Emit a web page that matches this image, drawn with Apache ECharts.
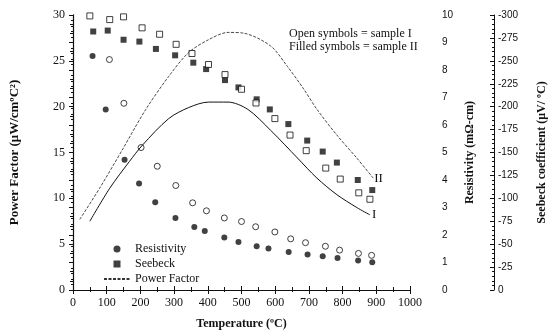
<!DOCTYPE html>
<html>
<head>
<meta charset="utf-8">
<script src="https://cdn.jsdelivr.net/npm/echarts@6/dist/echarts.min.js"></script>
<style>
  html, body { margin: 0; padding: 0; background: #fff; }
  #chart { width: 556px; height: 335px; }
</style>
</head>
<body>
<div id="chart"></div>
<script>
// resistivity (mOhm-cm), sample II = filled, sample I = open
var resTempII = [58, 97, 153, 196, 244, 304, 360, 391, 449, 491, 545, 580, 640, 696, 741, 785, 846, 888];
var resII = [8.51, 6.56, 4.74, 3.87, 3.19, 2.62, 2.29, 2.15, 1.91, 1.75, 1.59, 1.51, 1.38, 1.29, 1.23, 1.16, 1.07, 1.01];
var resTempI = [108, 151, 202, 250, 305, 355, 396, 449, 500, 542, 599, 646, 690, 749, 791, 847, 886];
var resI = [8.38, 6.79, 5.18, 4.50, 3.80, 3.17, 2.88, 2.62, 2.49, 2.30, 2.11, 1.86, 1.72, 1.59, 1.45, 1.33, 1.26];

// seebeck (uV/C)
var seeTempII = [60, 103, 150, 197, 246, 303, 357, 395, 451, 491, 545, 584, 639, 695, 741, 783, 845, 888];
var seeII = [-282, -283, -273, -271, -263, -256, -248, -241, -229, -221, -208, -197, -181, -163, -151, -139, -120, -109];
var seeTempI = [50, 109, 150, 205, 257, 306, 353, 402, 451, 500, 543, 599, 644, 692, 750, 793, 848, 881];
var seeI = [-299, -295, -298, -286, -279, -268, -258, -246, -235, -219, -204, -187, -169, -152, -133, -121, -106, -99];

// power factor curves (uW/cm C^2)
var pfTempII = [20, 79, 148, 216, 284, 343, 402, 460, 509, 587, 636, 685, 724, 783, 842, 891];
var pfII = [7.7, 11.1, 15.4, 19.7, 23.3, 25.9, 27.3, 28.1, 28.0, 26.6, 24.4, 21.9, 19.7, 16.9, 14.4, 12.2];
var pfTempI = [50, 109, 167, 206, 284, 343, 402, 460, 519, 587, 666, 724, 783, 842, 881];
var pfI = [7.5, 11.1, 14.0, 15.8, 18.7, 19.9, 20.5, 20.5, 19.7, 17.4, 14.4, 12.2, 10.4, 9.0, 8.2];

var notes = ["Open symbols = sample I", "Filled symbols = sample II"];

function zip(xs, ys) {
  return xs.map(function (x, i) { return [x, ys[i]]; });
}

var serif = "Liberation Serif";
var sans = "Liberation Sans";
var ink = "#111";

var chart = echarts.init(document.getElementById("chart"));

var option = {
  backgroundColor: "#fff",
  animation: false,
  grid: { left: 73, right: 142, top: 15, bottom: 42 },
  legend: {
    orient: "vertical",
    left: 98,
    top: 238,
    itemGap: 3,
    itemWidth: 26,
    itemHeight: 7,
    textStyle: { fontFamily: serif, fontSize: 12, color: ink },
    data: [
      { name: "Resistivity", icon: "circle" },
      { name: "Seebeck", icon: "path://M0 0H10V10H0Z" },
      { name: "Power Factor", itemStyle: { opacity: 0 } }
    ]
  },
  graphic: [
    { type: "text", left: 289, top: 28, style: { text: notes[0], font: "12px " + serif, fill: ink } },
    { type: "text", left: 289, top: 41, style: { text: notes[1], font: "12px " + serif, fill: ink } }
  ],
  xAxis: [
    {
      type: "value",
      min: 0, max: 1000, interval: 100,
      name: "Temperature (\u00baC)",
      nameLocation: "middle",
      nameGap: 28,
      nameTextStyle: { fontFamily: serif, fontWeight: "bold", fontSize: 12, color: ink },
      axisLine: { lineStyle: { color: ink, width: 1.2 } },
      axisTick: { inside: true, length: 4, lineStyle: { color: ink } },
      minorTick: { show: true, splitNumber: 2, length: 3, lineStyle: { color: ink } },
      splitLine: { show: false },
      axisLabel: {
        margin: 7, fontFamily: serif, fontSize: 12, color: ink,
        formatter: function (v) { return String(v); }
      }
    },
    {
      type: "value",
      position: "top",
      min: 0, max: 1000, interval: 100,
      axisLine: { show: true, lineStyle: { color: ink } },
      axisTick: { inside: true, length: 4, lineStyle: { color: ink } },
      minorTick: { show: true, splitNumber: 2, length: 2, lineStyle: { color: ink } },
      splitLine: { show: false },
      axisLabel: { show: false }
    }
  ],
  yAxis: [
    {
      type: "value",
      min: 0, max: 30, interval: 5,
      name: "Power Factor (\u03bcW/cm\u00baC\u00b2)",
      nameLocation: "middle",
      nameRotate: 90,
      nameGap: 52,
      nameTextStyle: { fontFamily: serif, fontWeight: "bold", fontSize: 13, color: ink },
      axisLine: { show: true, lineStyle: { color: ink, width: 1.2 } },
      axisTick: { length: 4, lineStyle: { color: ink } },
      minorTick: { show: true, splitNumber: 5, length: 3, lineStyle: { color: ink } },
      splitLine: { show: false },
      axisLabel: { margin: 8, fontFamily: serif, fontSize: 12, color: ink }
    },
    {
      type: "value",
      position: "right",
      offset: 26,
      min: 0, max: 10, interval: 1,
      name: "Resistivity (m\u03a9-cm)",
      nameLocation: "middle",
      nameRotate: 90,
      nameGap: 28,
      nameTextStyle: { fontFamily: serif, fontWeight: "bold", fontSize: 12, color: ink },
      axisLine: { show: true, lineStyle: { color: ink } },
      axisTick: { inside: true, length: 4, lineStyle: { color: ink } },
      minorTick: { show: true, splitNumber: 5, length: 2, lineStyle: { color: ink } },
      splitLine: { show: false },
      axisLabel: { margin: 6, fontFamily: sans, fontSize: 10, color: ink }
    },
    {
      type: "value",
      position: "right",
      offset: 84,
      min: -300, max: 0, interval: 25,
      inverse: true,
      name: "Seebeck coefficient (\u03bcV/ \u00baC)",
      nameLocation: "middle",
      nameRotate: 90,
      nameGap: 42,
      nameTextStyle: { fontFamily: serif, fontWeight: "bold", fontSize: 12, color: ink },
      axisLine: { show: true, lineStyle: { color: ink } },
      axisTick: { inside: true, length: 4, lineStyle: { color: ink } },
      minorTick: { show: true, splitNumber: 5, length: 2, lineStyle: { color: ink } },
      splitLine: { show: false },
      axisLabel: { margin: 4, fontFamily: sans, fontSize: 10, color: ink }
    }
  ],
  series: [
    {
      name: "Power Factor",
      type: "line",
      smooth: 0.3,
      symbol: "none",
      data: zip(pfTempII, pfII),
      lineStyle: { color: "#333", width: 0.9, type: [3, 1.5] },
      itemStyle: { color: "#333" },
      endLabel: { show: true, formatter: "II", fontFamily: serif, fontSize: 13, color: ink, distance: 1 }
    },
    {
      name: "PF sample I",
      type: "line",
      smooth: 0.3,
      symbol: "none",
      data: zip(pfTempI, pfI),
      lineStyle: { color: ink, width: 1 },
      endLabel: { show: true, formatter: "I", fontFamily: serif, fontSize: 13, color: ink, distance: 2 }
    },
    {
      name: "Resistivity",
      type: "scatter",
      yAxisIndex: 1,
      symbol: "circle",
      symbolSize: 6,
      data: zip(resTempII, resII),
      itemStyle: { color: ink }
    },
    {
      name: "Res sample I",
      type: "scatter",
      yAxisIndex: 1,
      symbol: "circle",
      symbolSize: 6,
      data: zip(resTempI, resI),
      itemStyle: { color: "#fff", borderColor: ink, borderWidth: 1 }
    },
    {
      name: "Seebeck",
      type: "scatter",
      yAxisIndex: 2,
      symbol: "rect",
      symbolSize: 6,
      data: zip(seeTempII, seeII),
      itemStyle: { color: ink }
    },
    {
      name: "Seebeck sample I",
      type: "scatter",
      yAxisIndex: 2,
      symbol: "rect",
      symbolSize: 6,
      data: zip(seeTempI, seeI),
      itemStyle: { color: "#fff", borderColor: ink, borderWidth: 1 }
    }
  ]
};

chart.setOption(option);
</script>
</body>
</html>
